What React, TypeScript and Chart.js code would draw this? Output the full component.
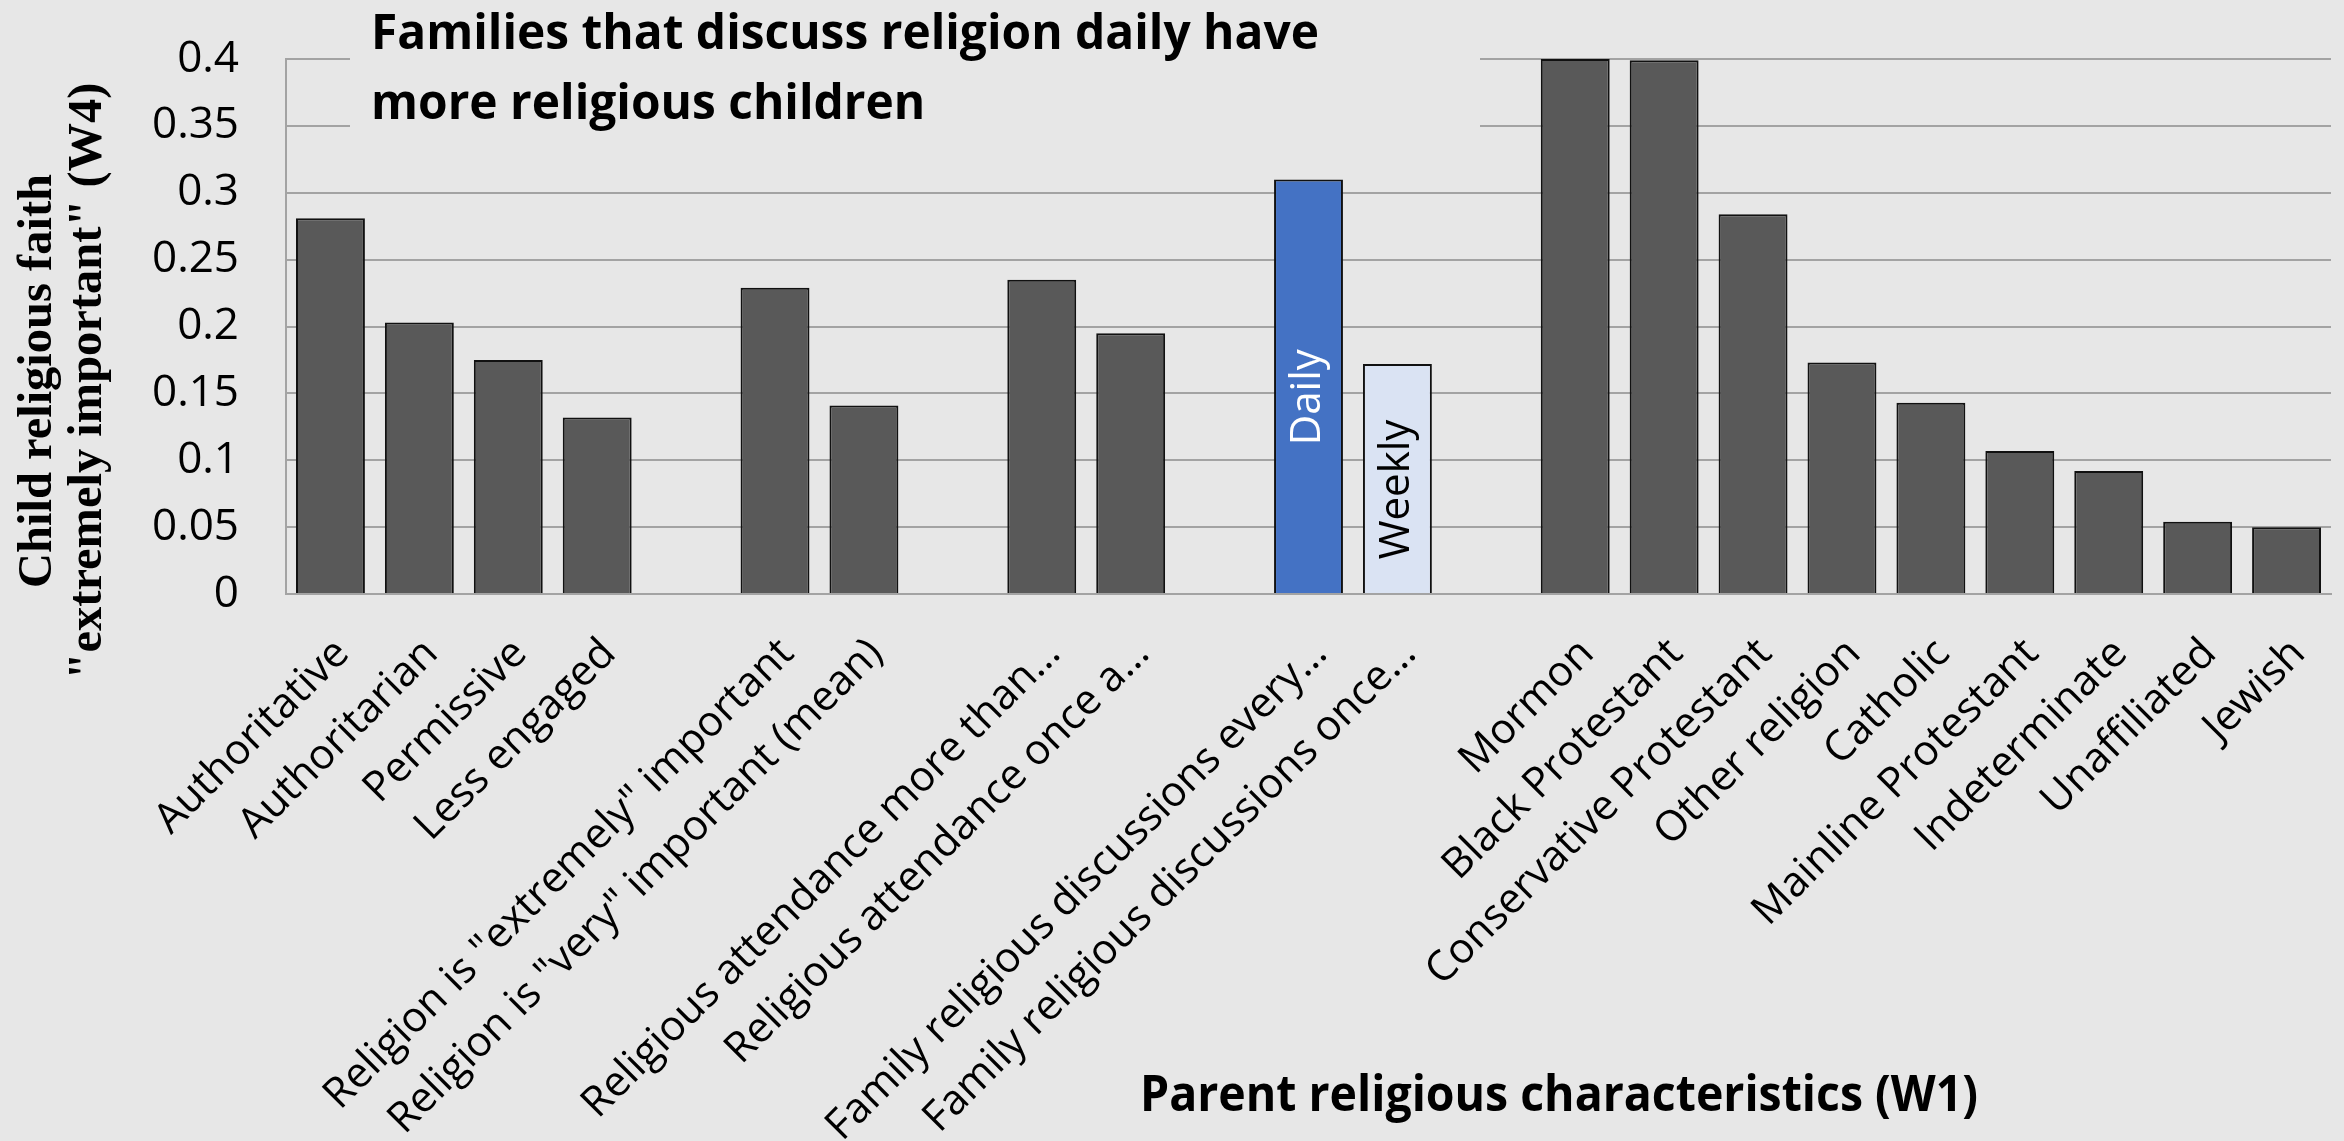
import React, { useEffect, useRef } from "react";
import { Chart, registerables } from "chart.js";

Chart.register(...registerables);

// ---------- data ----------
const categories: string[] = [
  "Authoritative",
  "Authoritarian",
  "Permissive",
  "Less engaged",
  "",
  "Religion is \"extremely\" important",
  "Religion is \"very\" important (mean)",
  "",
  "Religious attendance more than…",
  "Religious attendance once a…",
  "",
  "Family religious discussions every…",
  "Family religious discussions once…",
  "",
  "Mormon",
  "Black Protestant",
  "Conservative Protestant",
  "Other religion",
  "Catholic",
  "Mainline Protestant",
  "Indeterminate",
  "Unaffiliated",
  "Jewish",
];

const values: (number | null)[] = [
  0.281, 0.203, 0.175, 0.132, null,
  0.229, 0.141, null,
  0.235, 0.195, null,
  0.310, 0.172, null,
  0.400, 0.399, 0.284, 0.173, 0.143, 0.107, 0.092, 0.054, 0.050,
];

const barLabels: string[] = [
  "", "", "", "", "",
  "", "", "",
  "", "", "",
  "Daily", "Weekly", "",
  "", "", "", "", "", "", "", "", "",
];

const yTickLabels: string[] = ["0", "0.05", "0.1", "0.15", "0.2", "0.25", "0.3", "0.35", "0.4"];

const titleLines: string[] = ["Families that discuss religion daily have", "more religious children"];
const yTitleLines: string[] = ["Child religious faith", "\"extremely important\" (W4)"];
const xTitle = "Parent religious characteristics (W1)";

// ---------- styles ----------
const BG = "#e7e7e7";
const GRID = "#a3a3a3";
const BAR_DEFAULT = "#595959";
const BAR_DAILY = "#4472c4";
const BAR_WEEKLY = "#dae3f3";

const barColors = barLabels.map((l) => (l === "Daily" ? BAR_DAILY : l === "Weekly" ? BAR_WEEKLY : BAR_DEFAULT));
const barLabelColors = barLabels.map((l) => (l === "Daily" ? "#ffffff" : "#000000"));

const W = 2344;
const H = 1141;
const PLOT_LEFT = 286;
const PLOT_RIGHT = 2331;
const PLOT_TOP = 59;
const PLOT_BOTTOM = 594;

const annotations = {
  id: "annotations",
  afterDatasetsDraw(chart: any) {
    const ctx: CanvasRenderingContext2D = chart.ctx;
    const meta = chart.getDatasetMeta(0);
    barLabels.forEach((lab, i) => {
      if (!lab) return;
      const el = meta.data[i];
      if (!el) return;
      const cx = el.x;
      const cy = (el.y + el.base) / 2 + 11;
      ctx.save();
      ctx.translate(cx, cy);
      ctx.rotate(-Math.PI / 2);
      ctx.font = "42px 'Open Sans'";
      ctx.fillStyle = barLabelColors[i];
      ctx.textAlign = "center";
      ctx.textBaseline = "middle";
      ctx.fillText(lab, 0, 0);
      ctx.restore();
    });
  },
  afterDraw(chart: any) {
    const ctx: CanvasRenderingContext2D = chart.ctx;
    ctx.save();
    // title box covering gridlines
    ctx.fillStyle = BG;
    ctx.fillRect(350, 0, 1480 - 350, 150);

    ctx.fillStyle = "#000";
    ctx.textBaseline = "alphabetic";

    // main title
    ctx.font = "bold 48px 'Open Sans'";
    ctx.textAlign = "left";
    const s = 948 / ctx.measureText(titleLines[0]).width;
    titleLines.forEach((t, i) => {
      ctx.save();
      ctx.translate(371, 49 + i * 70);
      ctx.scale(s, 1);
      ctx.fillText(t, 0, 0);
      ctx.restore();
    });

    // x axis title
    ctx.font = "bold 51px 'Open Sans'";
    ctx.textAlign = "center";
    const sx = 838 / ctx.measureText(xTitle).width;
    ctx.save();
    ctx.translate(1559, 1111);
    ctx.scale(sx, 1);
    ctx.fillText(xTitle, 0, 0);
    ctx.restore();

    // y axis title
    ctx.font = "bold 49px 'Liberation Serif'";
    ctx.textAlign = "center";
    const sy = 414 / ctx.measureText(yTitleLines[0]).width;
    ctx.save();
    ctx.translate(0, 381);
    ctx.rotate(-Math.PI / 2);
    yTitleLines.forEach((t, i) => {
      ctx.save();
      ctx.translate(0, 51 + i * 50);
      ctx.scale(sy, 1);
      ctx.fillText(t, 0, 0);
      ctx.restore();
    });
    ctx.restore();

    ctx.restore();
  },
};

export default function App() {
  const ref = useRef<HTMLCanvasElement | null>(null);

  useEffect(() => {
    if (!ref.current) return;
    const chart = new Chart(ref.current, {
      type: "bar",
      data: {
        labels: categories,
        datasets: [
          {
            data: values as any,
            backgroundColor: barColors,
            borderColor: "#111111",
            borderWidth: 2,
            barPercentage: 0.775,
            categoryPercentage: 1,
          },
        ],
      },
      options: {
        animation: false,
        responsive: false,
        devicePixelRatio: 1,
        layout: {
          padding: { left: 0, right: W - PLOT_RIGHT, top: PLOT_TOP, bottom: 0 },
        },
        plugins: {
          legend: { display: false },
          title: { display: false },
          tooltip: { enabled: false },
        },
        scales: {
          x: {
            grid: { display: false, drawTicks: false },
            border: { display: true, color: GRID, width: 2 },
            ticks: {
              autoSkip: false,
              maxRotation: 45,
              minRotation: 45,
              padding: 35,
              labelOffset: 12,
              color: "#000",
              font: { family: "'Open Sans'", size: 42 },
            },
            afterFit: (scale: any) => {
              scale.height = H - PLOT_BOTTOM;
              scale.paddingLeft = 0;
              scale.paddingRight = 0;
            },
          },
          y: {
            min: 0,
            max: 0.4,
            grid: { color: GRID, lineWidth: 2, drawTicks: false },
            border: { display: true, color: GRID, width: 2 },
            ticks: {
              stepSize: 0.05,
              padding: 47,
              color: "#000",
              font: { family: "'Open Sans'", size: 44 },
              callback: (v: any) => yTickLabels[Math.round(Number(v) / 0.05)] ?? "",
            },
            afterFit: (scale: any) => {
              scale.width = PLOT_LEFT;
              scale.paddingTop = 0;
              scale.paddingBottom = 0;
            },
          },
        },
      },
      plugins: [annotations],
    });
    return () => chart.destroy();
  }, []);

  return (
    <div
      style={{
        position: "fixed",
        left: 0,
        top: 0,
        width: W,
        height: H,
        background: BG,
      }}
    >
      <canvas ref={ref} width={W} height={H} style={{ display: "block" }} />
    </div>
  );
}
